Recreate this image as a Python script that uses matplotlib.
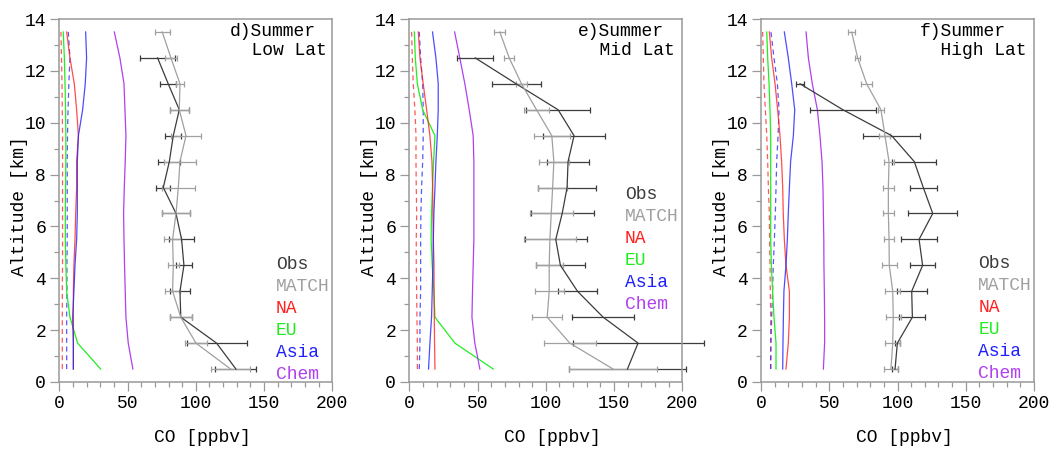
import matplotlib
matplotlib.use("Agg")
import matplotlib.pyplot as plt
from matplotlib.ticker import MultipleLocator

plt.rcParams['font.family'] = ['Liberation Mono', 'DejaVu Sans Mono']

levels = [0.5, 1.5, 2.5, 3.5, 4.5, 5.5, 6.5, 7.5, 8.5, 9.5, 10.5, 11.5, 12.5, 13.5]

# ---- panel d: Summer Low Lat ----
na_d = [10.3, 10.3, 10.3, 10.3, 10.7, 11.5, 12.0, 12.7, 12.7, 14.0, 12.7, 11.0, 7.8, 5.4]
eu_d = [30.3, 13.4, 7.8, 5.4, 4.8, 4.4, 4.4, 4.6, 4.8, 4.8, 4.6, 4.2, 3.7, 2.9]
asia_d = [10.3, 10.3, 9.8, 10.7, 11.5, 12.7, 13.2, 13.2, 13.2, 14.0, 17.1, 19.0, 20.0, 19.3]
chem_d = [53.9, 50.5, 48.8, 48.3, 47.8, 47.4, 47.1, 47.6, 48.3, 48.8, 48.1, 47.4, 44.4, 40.3]
na2_d = [2.2, 2.2, 2.2, 2.2, 2.4, 2.4, 2.4, 2.4, 2.4, 2.4, 2.2, 2.0, 1.6, 1.2]
asia2_d = [5.4, 5.4, 5.4, 5.6, 5.6, 5.8, 5.8, 5.8, 5.8, 6.0, 6.4, 7.0, 7.8, 6.6]
obs_d = [129.4, 115.2, 89.0, 88.4, 91.3, 89.6, 85.5, 76.2, 80.6, 83.5, 87.9, 79.8, 72.0]
obs_err_d = [15, 22, 8, 7, 6, 9, 10, 5, 8, 6, 7, 6, 13]
match_d = [125.5, 100.1, 89.0, 83.0, 83.5, 83.0, 85.5, 87.2, 88.4, 92.8, 87.9, 88.4, 81.8, 75.4]
match_err_d = [14, 8, 8, 5.5, 4, 6, 10, 12, 12, 11, 7, 3, 4.5, 5.5]

# ---- panel e: Summer Mid Lat ----
na_e = [18.8, 18.5, 18.3, 18.1, 18.1, 17.6, 17.3, 17.1, 16.6, 15.1, 12.7, 10.2, 7.8, 6.6]
eu_e = [61.5, 33.4, 18.8, 18.0, 16.8, 16.0, 16.3, 17.0, 17.8, 18.8, 9.8, 5.9, 4.4, 3.7]
asia_e = [14.1, 15.1, 16.3, 16.8, 17.3, 17.6, 18.0, 18.8, 19.5, 20.5, 21.2, 21.2, 19.5, 17.0]
chem_e = [51.7, 48.0, 45.9, 46.3, 46.8, 47.3, 47.3, 47.3, 47.3, 46.8, 43.9, 40.7, 37.0, 33.2]
na2_e = [5.9, 5.9, 5.6, 5.4, 5.1, 5.1, 5.4, 5.1, 4.9, 4.9, 4.1, 2.9, 2.2, 1.7]
asia2_e = [7.3, 7.8, 7.8, 8.3, 8.3, 8.3, 8.5, 9.0, 9.8, 10.2, 10.2, 9.8, 8.3, 7.3]
obs_e = [159.8, 167.6, 142.0, 123.2, 110.7, 107.3, 112.0, 115.6, 116.3, 120.7, 109.0, 78.3, 48.3]
obs_err_e = [43, 48, 22.5, 14, 18, 22.7, 23, 21, 15.4, 23, 23.5, 18, 13]
match_e = [149.3, 117.6, 101.0, 102.5, 102.5, 103.0, 104.0, 105.0, 105.9, 104.4, 93.2, 82.2, 73.2, 66.3]
match_err_e = [32, 19, 11, 10.5, 10, 19, 15.6, 10.5, 11, 13, 9, 4, 3.8, 4]

# ---- panel f: Summer High Lat ----
na_f = [18.3, 20.0, 20.8, 20.8, 18.3, 17.1, 16.3, 15.9, 15.1, 13.9, 12.2, 10.3, 7.8, 6.1]
eu_f = [11.0, 11.0, 9.5, 8.5, 7.6, 7.1, 7.1, 7.1, 7.1, 7.1, 6.6, 5.9, 4.9, 4.2]
asia_f = [15.9, 16.1, 16.4, 16.8, 18.3, 19.3, 20.0, 20.8, 21.7, 23.7, 24.7, 22.5, 20.0, 17.1]
chem_f = [45.7, 46.6, 46.6, 46.4, 46.1, 46.0, 45.7, 45.4, 44.7, 43.2, 41.3, 37.6, 34.7, 33.0]
na2_f = [7.1, 7.1, 7.1, 6.8, 6.6, 6.3, 6.1, 5.4, 4.9, 4.2, 3.2, 2.2, 1.7, 1.2]
asia2_f = [7.1, 7.3, 7.8, 8.5, 9.0, 9.8, 10.5, 11.0, 11.5, 12.5, 13.2, 12.0, 9.5, 7.3]
obs_f = [98.2, 99.9, 110.9, 110.4, 118.4, 115.8, 125.8, 118.9, 112.3, 95.7, 60.0, 28.6]
obs_err_f = [2, 2, 9.5, 11, 9, 13.5, 18, 9.8, 16, 21, 24, 3]
match_f = [95.2, 96.5, 96.9, 96.5, 94.0, 93.8, 93.3, 93.3, 93.8, 90.8, 87.9, 77.4, 70.8, 66.4]
match_err_f = [5, 5.5, 5.5, 5.5, 5.5, 4, 4, 4, 3.5, 4, 2, 4, 2, 2.5]

titles = ["d)Summer\n  Low Lat", "e)Summer\n  Mid Lat", "f)Summer\n  High Lat"]
legend_names = ["Obs", "MATCH", "NA", "EU", "Asia", "Chem"]

C_OBS = "#3c3c3c"
C_MATCH = "#a0a0a0"
C_NA = "#ff2020"
C_EU = "#20ee20"
C_ASIA = "#2020ff"
C_CHEM = "#b040f0"
legend_colors = [C_OBS, C_MATCH, C_NA, C_EU, C_ASIA, C_CHEM]

panels = [
    dict(na=na_d, eu=eu_d, asia=asia_d, chem=chem_d, na2=na2_d, asia2=asia2_d,
         obs=obs_d, obs_err=obs_err_d, match=match_d, match_err=match_err_d,
         left=59.3, title_x=125, leg_x=158.7, leg_y=4.55),
    dict(na=na_e, eu=eu_e, asia=asia_e, chem=chem_e, na2=na2_e, asia2=asia2_e,
         obs=obs_e, obs_err=obs_err_e, match=match_e, match_err=match_err_e,
         left=409.3, title_x=123.7, leg_x=157.9, leg_y=7.25),
    dict(na=na_f, eu=eu_f, asia=asia_f, chem=chem_f, na2=na2_f, asia2=asia2_f,
         obs=obs_f, obs_err=obs_err_f, match=match_f, match_err=match_err_f,
         left=761.0, title_x=116, leg_x=159.2, leg_y=4.56),
]

W, H = 1053, 449
fig = plt.figure(figsize=(W / 100, H / 100), dpi=100)
FS = 13
SPINE = "#999999"

for p, title in zip(panels, titles):
    ax = fig.add_axes([p['left'] / W, (H - 382) / H, 273 / W, 363 / H])
    lw = 0.9
    ax.plot(p['na2'], levels, color=C_NA, lw=lw, ls=(0, (4, 3)), alpha=0.75)
    ax.plot(p['asia2'], levels, color=C_ASIA, lw=lw, ls=(0, (4, 3)), alpha=0.75)
    ax.plot(p['eu'], levels, color=C_EU, lw=lw)
    ax.plot(p['na'], levels, color=C_NA, lw=lw, alpha=0.8)
    ax.plot(p['asia'], levels, color=C_ASIA, lw=lw, alpha=0.8)
    ax.plot(p['chem'], levels, color=C_CHEM, lw=lw)
    n_obs = len(p['obs'])
    ax.errorbar(p['obs'], levels[:n_obs], xerr=p['obs_err'], color=C_OBS, lw=0.9,
                elinewidth=0.9, capsize=2, capthick=0.9, clip_on=False)
    ax.errorbar(p['match'], levels, xerr=p['match_err'], color=C_MATCH, lw=0.9,
                elinewidth=0.9, capsize=2, capthick=0.9, clip_on=False)

    ax.set_xlim(0, 200)
    ax.set_ylim(0, 14)
    ax.xaxis.set_major_locator(MultipleLocator(50))
    ax.xaxis.set_minor_locator(MultipleLocator(10))
    ax.yaxis.set_major_locator(MultipleLocator(2))
    ax.yaxis.set_minor_locator(MultipleLocator(1))
    ax.tick_params(which='major', direction='out', length=6.5, width=0.9, color=SPINE,
                   labelsize=FS, pad=3)
    ax.tick_params(which='minor', direction='out', length=3.5, width=0.9, color=SPINE)
    for s in ax.spines.values():
        s.set_color(SPINE)
        s.set_linewidth(1.1)
    ax.set_xlabel("CO [ppbv]", fontsize=FS)
    ax.set_ylabel("Altitude [km]", fontsize=FS)
    ax.xaxis.set_label_coords(0.524, -0.130)
    ax.yaxis.set_label_coords(-0.115, 0.485)

    ax.text(p['title_x'], 13.15, title, fontsize=FS, ha='left', va='center',
            linespacing=1.2)
    for i, (name, col) in enumerate(zip(legend_names, legend_colors)):
        ax.text(p['leg_x'], p['leg_y'] - 0.85 * i, name, color=col, fontsize=FS,
                ha='left', va='center', clip_on=False)

fig.savefig("out.png", dpi=100)
